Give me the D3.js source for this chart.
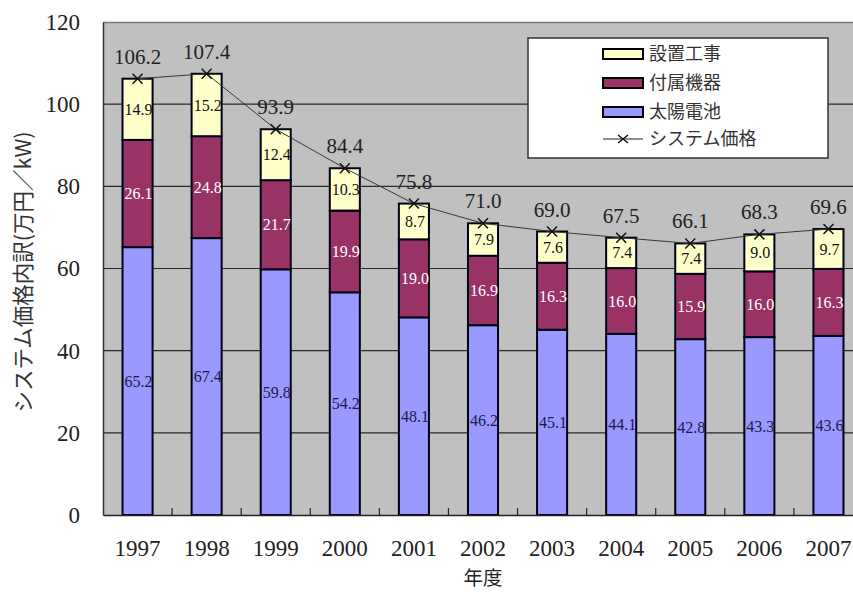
<!DOCTYPE html>
<html><head><meta charset="utf-8">
<script src="https://cdn.jsdelivr.net/npm/d3@7"></script>
<style>
html,body{margin:0;padding:0;background:#fff;overflow:hidden;}
svg{display:block;}
</style></head>
<body>
<svg id="chart" width="853" height="592"></svg>
<script>
const years = ["1997","1998","1999","2000","2001","2002","2003","2004","2005","2006","2007"];
const solarCell = [65.2,67.4,59.8,54.2,48.1,46.2,45.1,44.1,42.8,43.3,43.6];
const accessories = [26.1,24.8,21.7,19.9,19.0,16.9,16.3,16.0,15.9,16.0,16.3];
const installation = [14.9,15.2,12.4,10.3,8.7,7.9,7.6,7.4,7.4,9.0,9.7];
const systemPrice = [106.2,107.4,93.9,84.4,75.8,71.0,69.0,67.5,66.1,68.3,69.6];
const yTicks = [0,20,40,60,80,100,120];
const seriesNames = ["太陽電池","付属機器","設置工事"];
const lineName = "システム価格";
const yTitle = "システム価格内訳(万円／kW)";
const xTitle = "年度";

const colors = {"太陽電池":"#9999ff","付属機器":"#993366","設置工事":"#ffffcc"};
const labelColors = {"太陽電池":"#1a1a4d","付属機器":"#ffffff","設置工事":"#111111"};

const svg = d3.select("#chart");
const L = 103, R = 863, T = 22, B = 515;
const serif = "'Liberation Serif','DejaVu Serif',serif";
const cjk = "'Noto Sans CJK JP','Noto Sans',sans-serif";

const x = d3.scaleBand().domain(years).range([L,R]).paddingInner(0.565).paddingOuter(0.2825);
const y = d3.scaleLinear().domain([0,120]).range([B,T]);

// plot background
svg.append("rect").attr("x",L).attr("y",T).attr("width",R-L).attr("height",B-T).attr("fill","#c0c0c0");

// gridlines
svg.append("g").selectAll("line").data(yTicks.filter(d=>d>0 && d<120)).join("line")
  .attr("x1",L).attr("x2",R).attr("y1",d=>y(d)).attr("y2",d=>y(d))
  .attr("stroke","#2a2a2a").attr("stroke-width",1.2);

// top border
svg.append("line").attr("x1",L).attr("x2",R).attr("y1",T+0.5).attr("y2",T+0.5).attr("stroke","#7a7a7a").attr("stroke-width",1.5);

// stacked data
const rows = years.map((yr,i)=>({year:yr,"太陽電池":solarCell[i],"付属機器":accessories[i],"設置工事":installation[i]}));
const stack = d3.stack().keys(seriesNames)(rows);

const gBars = svg.append("g");
stack.forEach(layer=>{
  gBars.append("g").selectAll("rect").data(layer).join("rect")
    .attr("x",d=>x(d.data.year)).attr("width",x.bandwidth())
    .attr("y",d=>y(d[1])).attr("height",d=>y(d[0])-y(d[1]))
    .attr("fill",colors[layer.key]).attr("stroke","#000014").attr("stroke-width",2);
});

// axes
const yAxis = d3.axisLeft(y).tickValues(yTicks).tickSize(0).tickPadding(23);
const gy = svg.append("g").attr("transform",`translate(${L},0)`).call(yAxis);
gy.select(".domain").attr("stroke","#333").attr("stroke-width",1.5);
gy.selectAll("text").attr("font-family",serif).attr("font-size",23).attr("fill","#222");

const xAxis = d3.axisBottom(x).tickSize(0).tickPadding(25);
const gx = svg.append("g").attr("transform",`translate(0,${B})`).call(xAxis);
gx.select(".domain").attr("stroke","#222").attr("stroke-width",1.5);
gx.selectAll("text").attr("font-family",serif).attr("font-size",23).attr("fill","#222");

// category boundary tick marks (inside)
const step = x.step();
svg.append("g").selectAll("line").data(years.slice(1)).join("line")
  .attr("x1",d=>x(d)-(step-x.bandwidth())/2).attr("x2",d=>x(d)-(step-x.bandwidth())/2)
  .attr("y1",B).attr("y2",B-7).attr("stroke","#222").attr("stroke-width",1.2);

// segment labels
stack.forEach(layer=>{
  svg.append("g").selectAll("text").data(layer).join("text")
    .attr("x",d=>x(d.data.year)+x.bandwidth()/2+1)
    .attr("y",d=>(y(d[0])+y(d[1]))/2)
    .attr("dy","0.35em").attr("text-anchor","middle")
    .attr("font-family",serif).attr("font-size",16)
    .attr("fill",labelColors[layer.key])
    .text(d=>(d[1]-d[0]).toFixed(1));
});

// line
const cx = d=>x(d)+x.bandwidth()/2;
const lineData = years.map((yr,i)=>({year:yr,v:systemPrice[i]}));
svg.append("path").datum(lineData)
  .attr("d",d3.line().x(d=>cx(d.year)).y(d=>y(d.v)))
  .attr("fill","none").attr("stroke","#3a3a3a").attr("stroke-width",1);
svg.append("g").selectAll("path").data(lineData).join("path")
  .attr("transform",d=>`translate(${cx(d.year)},${y(d.v)})`)
  .attr("d","M-5,-5L5,5M-5,5L5,-5").attr("stroke","#111").attr("stroke-width",1.5);
svg.append("g").selectAll("text").data(lineData).join("text")
  .attr("x",d=>cx(d.year)).attr("y",d=>y(d.v)-15)
  .attr("text-anchor","middle").attr("font-family",serif).attr("font-size",21).attr("fill","#222")
  .text(d=>d.v.toFixed(1));

// axis titles
svg.append("text").attr("transform","translate(23,272) rotate(-90)")
  .attr("text-anchor","middle").attr("dy","0.35em")
  .attr("font-family",cjk).attr("font-size",21.5).attr("fill","#333").text(yTitle);
svg.append("text").attr("x",483).attr("y",578).attr("dy","0.35em").attr("text-anchor","middle")
  .attr("font-family",cjk).attr("font-size",19.5).attr("fill","#222").text(xTitle);

// legend
const lg = svg.append("g");
lg.append("rect").attr("x",528).attr("y",38).attr("width",300).attr("height",120)
  .attr("fill","#fff").attr("stroke","#333").attr("stroke-width",1.5);
const legendItems = [...seriesNames].reverse();
const rowY = [54,83,112,139];
legendItems.forEach((k,i)=>{
  lg.append("rect").attr("x",603).attr("y",rowY[i]-5).attr("width",40).attr("height",10)
    .attr("fill",colors[k]).attr("stroke","#000").attr("stroke-width",2);
  lg.append("text").attr("x",649).attr("y",rowY[i]).attr("dy","0.35em")
    .attr("font-family",cjk).attr("font-size",18).attr("fill","#333").text(k);
});
lg.append("line").attr("x1",603).attr("x2",643).attr("y1",rowY[3]).attr("y2",rowY[3]).attr("stroke","#222").attr("stroke-width",1.2);
lg.append("path").attr("transform",`translate(623,${rowY[3]})`).attr("d","M-5,-4L5,4M-5,4L5,-4").attr("stroke","#111").attr("stroke-width",1.5);
lg.append("text").attr("x",649).attr("y",rowY[3]).attr("dy","0.35em")
  .attr("font-family",cjk).attr("font-size",18).attr("fill","#333").text(lineName);
</script>
</body></html>
